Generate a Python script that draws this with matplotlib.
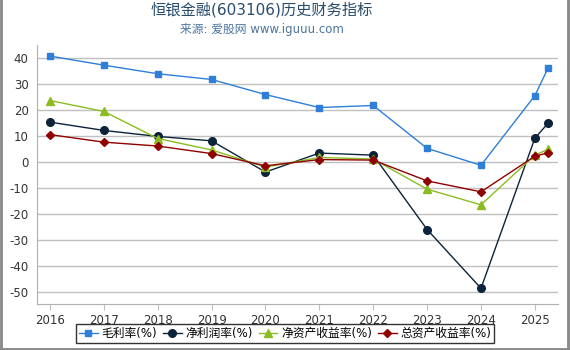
import matplotlib
matplotlib.use('Agg')
import matplotlib.pyplot as plt
from matplotlib.lines import Line2D

plt.rcParams['font.family'] = ['DejaVu Sans', 'Noto Sans CJK SC']
plt.rcParams['axes.unicode_minus'] = False

# Datos
x_vals = [2016, 2017, 2018, 2019, 2020, 2021, 2022, 2023, 2024, 2025, 2025.25]
year_ticks = [2016, 2017, 2018, 2019, 2020, 2021, 2022, 2023, 2024, 2025]

gross_margin = [40.8, 37.3, 34.0, 31.8, 26.0, 21.0, 21.8, 5.3, -1.2, 25.6, 36.4]
net_margin = [15.4, 12.2, 9.9, 8.2, -3.8, 3.5, 2.7, -25.9, -48.5, 9.2, 15.1]
roe = [23.7, 19.5, 9.1, 4.7, -1.9, 1.8, 1.2, -10.4, -16.4, 2.7, 5.0]
roa = [10.6, 7.7, 6.2, 3.3, -1.4, 1.0, 0.8, -7.2, -11.4, 2.3, 3.6]

labels = ['毛利率(%)', '净利润率(%)', '净资产收益率(%)', '总资产收益率(%)']

# Estilos
series = [
    (gross_margin, '#2f7ed8', 's', 5),
    (net_margin, '#0d233a', 'o', 5.5),
    (roe, '#8bbc21', '^', 5.5),
    (roa, '#910000', 'D', 3.8),
]

fig = plt.figure(figsize=(5.7, 3.5), dpi=100)
ax = fig.add_axes([0.065, 0.131, 0.914, 0.740])

handles = []
for (vals, col, mk, ms), lab in zip(series, labels):
    h, = ax.plot(x_vals, vals, color=col, marker=mk, markersize=ms,
                 linewidth=1, label=lab)
    handles.append(h)

ax.set_xlim(2015.76, 2025.43)
ax.set_ylim(-54.6, 45)
ax.set_xticks(year_ticks)
ax.set_xticklabels([str(y) for y in year_ticks])
ax.set_yticks(range(-50, 41, 10))

ax.grid(axis='y', color='#c0c0c0', linewidth=1)
ax.set_axisbelow(True)
for s in ['top', 'right']:
    ax.spines[s].set_visible(False)
for s in ['left', 'bottom']:
    ax.spines[s].set_color('#b0b0b0')
ax.tick_params(axis='y', length=0, labelsize=8.5, labelcolor='#333333', pad=6)
ax.tick_params(axis='x', length=4, color='#c0c0c0', labelsize=8.5,
               labelcolor='#333333', pad=3)

fig.text(0.459, 1 - 10 / 350, '恒银金融(603106)历史财务指标', ha='center',
         va='center', fontsize=11, color='#274b6d')
fig.text(0.459, 1 - 29 / 350, '来源: 爱股网 www.iguuu.com', ha='center',
         va='center', fontsize=8.5, color='#4d759e')

leg = fig.legend(handles=handles, loc='lower center', ncol=4,
                 bbox_to_anchor=(0.5, 0.003), fontsize=8.5, frameon=True,
                 fancybox=False, handlelength=1.6, handletextpad=0.3,
                 columnspacing=0.5, borderpad=0.25)
leg.get_frame().set_edgecolor('black')
leg.get_frame().set_linewidth(1)

# Borde gris de la figura
for xs, ys in [([0.002, 0.002], [0, 1]), ([0.997, 0.997], [0, 1]),
               ([0, 1], [0.003, 0.003])]:
    fig.add_artist(Line2D(xs, ys, transform=fig.transFigure,
                          color='#888888', linewidth=2))

fig.savefig('out.png', dpi=100)
